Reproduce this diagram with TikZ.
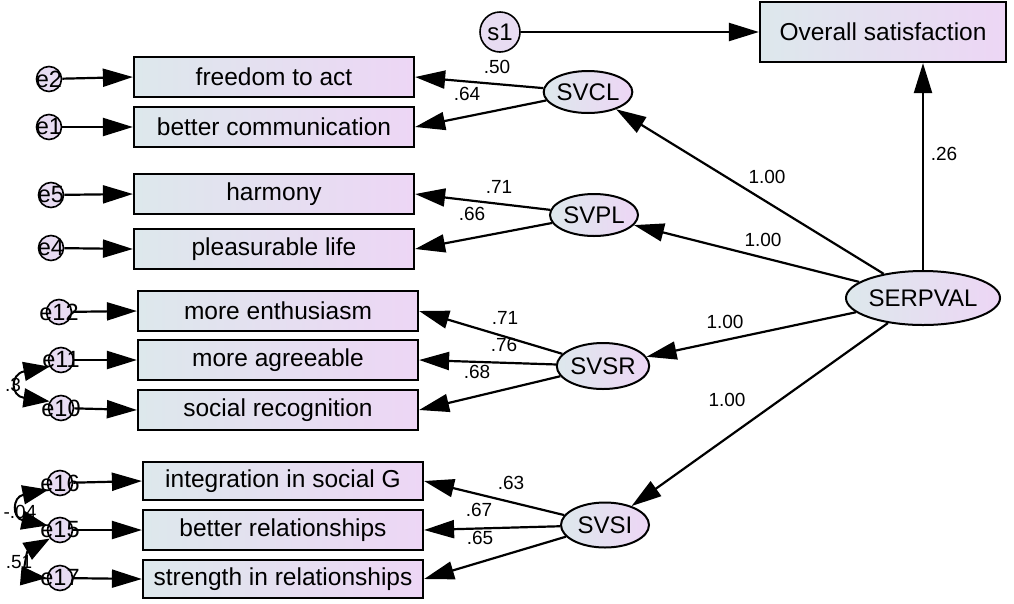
\documentclass[tikz,border=0pt]{standalone}
\usepackage{fontspec}
\setmainfont{Liberation Sans}
\usetikzlibrary{arrows.meta,shapes.geometric}
\definecolor{shadeL}{RGB}{221,232,236}
\definecolor{shadeR}{RGB}{237,214,245}
\definecolor{errfill}{RGB}{232,220,242}
\tikzset{
  obs/.style={draw=black,line width=2.2pt,minimum width=280pt,minimum height=40pt,
    left color=shadeL,right color=shadeR,inner sep=0pt,
    font=\fontsize{24.5}{28}\selectfont},
  lat/.style={ellipse,draw=black,line width=2pt,left color=shadeL,right color=shadeR,
    inner sep=0pt,font=\fontsize{24}{28}\selectfont},
  err/.style={circle,draw=black,line width=1.6pt,fill=errfill,minimum size=25pt,
    inner sep=0pt,font=\fontsize{23.5}{26}\selectfont},
  coef/.style={font=\fontsize{19}{22}\selectfont,inner sep=0pt},
  arr/.style={line width=2.2pt,-{Triangle[length=30pt,width=18pt]}},
  cov/.style={line width=2pt,{Triangle[length=26pt,width=19pt]}-{Triangle[length=26pt,width=19pt]}},
}
% error label printed across a small circle without enlarging it
\newcommand{\errlbl}[1]{\makebox[0pt][c]{#1}}
\begin{document}
\begin{tikzpicture}[x=1pt,y=-1pt]
\useasboundingbox (0,0) rectangle (1014,603);

% outcome and its residual
\node[draw=black,line width=2.2pt,minimum width=246pt,minimum height=60pt,
  left color=shadeL,right color=shadeR,inner sep=0pt,
  font=\fontsize{24.5}{28}\selectfont] (os) at (883,32) {Overall satisfaction};
\node[err,minimum size=40pt,font=\fontsize{24}{28}\selectfont] (s1) at (500,32) {s1};

% latent variables
\node[lat,minimum width=88pt,minimum height=42pt] (svcl) at (588,92) {SVCL};
\node[lat,minimum width=88pt,minimum height=42pt] (svpl) at (594,215) {SVPL};
\node[lat,minimum width=88pt,minimum height=46pt] (svsr) at (603,366) {SVSR};
\node[lat,minimum width=88pt,minimum height=45pt] (svsi) at (605,525) {SVSI};
\node[lat,minimum width=150pt,minimum height=54pt] (serp) at (923,298) {SERPVAL};

% observed indicators
\node[obs] (fta) at (274,77) {freedom to act};
\node[obs] (bcm) at (274,127) {better communication};
\node[obs] (har) at (274,194) {harmony};
\node[obs] (plf) at (274,249) {pleasurable life};
\node[obs] (men) at (278,311) {more enthusiasm};
\node[obs] (mag) at (278,360) {more agreeable};
\node[obs] (src) at (278,410) {social recognition};
\node[obs,minimum height=38pt] (isg) at (283,481) {integration in social G};
\node[obs] (brl) at (283,530) {better relationships};
\node[obs,minimum height=38pt] (sir) at (283,579) {strength in relationships};

% error terms
\node[err] (e2) at (49,79) {\errlbl{e2}};
\node[err] (e1) at (49,127) {\errlbl{e1}};
\node[err] (e5) at (51,195) {\errlbl{e5}};
\node[err] (e4) at (51,248) {\errlbl{e4}};
\node[err] (e12) at (59,312) {\errlbl{e12}};
\node[err] (e11) at (61,360) {\errlbl{e11}};
\node[err] (e10) at (61,408) {\errlbl{e10}};
\node[err] (e16) at (60,483) {\errlbl{e16}};
\node[err] (e15) at (60,530) {\errlbl{e15}};
\node[err] (e17) at (60,578) {\errlbl{e17}};

% structural paths
\draw[arr] (s1) -- (os);
\draw[arr] (serp) -- (serp |- os.south);
\draw[arr] (serp) -- (svcl);
\draw[arr] (serp) -- (svpl);
\draw[arr] (serp) -- (svsr);
\draw[arr] (serp) -- (svsi);

% loadings
\draw[arr] (svcl) -- (fta.east);
\draw[arr] (svcl) -- (bcm.east);
\draw[arr] (svpl) -- (har.east);
\draw[arr] (svpl) -- (plf.east);
\draw[arr] (svsr) -- (men.east);
\draw[arr] (svsr) -- (mag.east);
\draw[arr] (svsr) -- (src.east);
\draw[arr] (svsi) -- (isg.east);
\draw[arr] (svsi) -- (brl.east);
\draw[arr] (svsi) -- (sir.east);

% error paths
\draw[arr] (e2) -- (fta.west);
\draw[arr] (e1) -- (bcm.west);
\draw[arr] (e5) -- (har.west);
\draw[arr] (e4) -- (plf.west);
\draw[arr] (e12) -- (men.west);
\draw[arr] (e11) -- (mag.west);
\draw[arr] (e10) -- (src.west);
\draw[arr] (e16) -- (isg.west);
\draw[arr] (e15) -- (brl.west);
\draw[arr] (e17) -- (sir.west);

% covariance labels
\node[coef] (c1) at (13,385) {.3};
\node[coef] (c2) at (20,512) {-.04};
\node[coef] (c3) at (19,562) {.51};

% error covariances
\draw[cov] (e11.210) .. controls (10,374) and (10,396) .. (e10.150);
\draw[cov] (e16.210) .. controls (12,497) and (12,518) .. (e15.160);
\draw[cov] (e15.220) .. controls (26,552) and (24,576) .. (e17.180);

% path coefficients
\node[coef] (l1) at (497,67) {.50};
\node[coef] (l2) at (467,94) {.64};
\node[coef] (l3) at (499,187) {.71};
\node[coef] (l4) at (472,214) {.66};
\node[coef] (l5) at (505,318) {.71};
\node[coef] (l6) at (504,345) {.76};
\node[coef] (l7) at (477,372) {.68};
\node[coef] (l8) at (511,483) {.63};
\node[coef] (l9) at (479,510) {.67};
\node[coef] (l10) at (480,538) {.65};
\node[coef] (g1) at (767,177) {1.00};
\node[coef] (g2) at (763,240) {1.00};
\node[coef] (g3) at (725,322) {1.00};
\node[coef] (g4) at (727,400) {1.00};
\node[coef] (g5) at (944,154) {.26};
\end{tikzpicture}
\end{document}
